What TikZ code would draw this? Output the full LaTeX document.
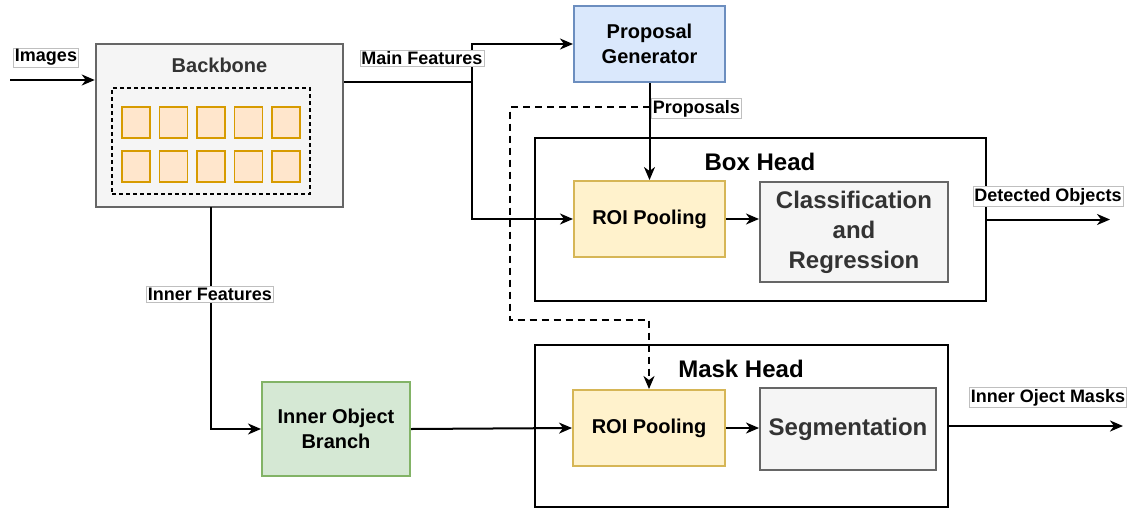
\documentclass[tikz,border=0pt]{standalone}
\usepackage{fontspec}
\setmainfont{Liberation Sans}
\usepackage{tikz}
\usetikzlibrary{arrows.meta}
\definecolor{bbfill}{HTML}{F5F5F5}
\definecolor{bbdraw}{HTML}{666666}
\definecolor{bbtext}{HTML}{333333}
\definecolor{cellfill}{HTML}{FFE6CC}
\definecolor{celldraw}{HTML}{D79B00}
\definecolor{pgfillc}{HTML}{DAE8FC}
\definecolor{pgdraw}{HTML}{6C8EBF}
\definecolor{roifill}{HTML}{FFF2CC}
\definecolor{roidraw}{HTML}{D6B656}
\definecolor{iobfill}{HTML}{D5E8D4}
\definecolor{iobdraw}{HTML}{82B366}

\begin{document}
\begin{tikzpicture}[x=1pt, y=-1pt,
        >={Stealth[length=13pt,width=11pt,inset=4pt]},
        flow/.style={line width=2pt},
        box/.style={draw, line width=2pt, inner sep=0pt, align=center,
            font=\bfseries\fontsize{20}{25}\selectfont},
        graybox/.style={box, fill=bbfill, draw=bbdraw, text=bbtext},
        headbox/.style={draw, line width=2pt, inner sep=0pt},
        headtitle/.style={font=\bfseries\fontsize{24}{28}\selectfont, inner sep=0pt},
        cell/.style={draw=celldraw, fill=cellfill, line width=1.3pt,
            minimum width=28pt, minimum height=31pt, inner sep=0pt},
        tag/.style={fill=white, draw=black!25, line width=0.8pt, inner sep=1.5pt,
            font=\bfseries\fontsize{18}{20}\selectfont}]
        \useasboundingbox (0,0) rectangle (1131,509);
        \node[graybox, line width=2.5pt, minimum width=247pt, minimum height=163pt] (backbone) at (219.5,125.5) {};
        \node[text=bbtext, font=\bfseries\fontsize{20}{24}\selectfont, inner sep=0pt] (bbtitle) at (219.5,65) {Backbone};
        \node[draw, dashed, dash pattern=on 4pt off 3pt, line width=1.5pt,
            minimum width=198pt, minimum height=106pt] (featgrid) at (211,141) {};
        \foreach \i in {0,...,4} {
            \node[cell] (cella\i) at (136+37.5*\i,122.5) {};
            \node[cell] (cellb\i) at (136+37.5*\i,166.5) {};
        }
        \node[box, fill=pgfillc, draw=pgdraw, minimum width=151pt, minimum height=76pt] (propgen) at (649.5,44) {Proposal\\Generator};
        \node[headbox, minimum width=451pt, minimum height=163pt] (boxhead) at (760.5,219.5) {};
        \node[headtitle] (bhtitle) at (760,162) {Box Head};
        \node[box, fill=roifill, draw=roidraw, minimum width=151pt, minimum height=76pt] (roibox) at (649.5,219) {ROI Pooling};
        \node[graybox, minimum width=188pt, minimum height=100pt,
            font=\bfseries\fontsize{24}{30}\selectfont] (clsreg) at (854,232) {Classification\\and\\Regression};
        \node[headbox, minimum width=413pt, minimum height=162pt] (maskhead) at (741.5,426) {};
        \node[headtitle] (mhtitle) at (741,369) {Mask Head};
        \node[box, fill=roifill, draw=roidraw, minimum width=152pt, minimum height=76pt] (roimask) at (649,428) {ROI Pooling};
        \node[graybox, minimum width=176pt, minimum height=82pt,
            font=\bfseries\fontsize{24}{28}\selectfont] (seg) at (848,429) {Segmentation};
        \node[box, fill=iobfill, draw=iobdraw, minimum width=148pt, minimum height=94pt] (iob) at (336,429) {Inner Object\\Branch};
        \coordinate (imgin) at (10,80);
        \coordinate (mfsplit) at (472,82);
        \coordinate (proptap) at (649.5,107);
        \coordinate (dashcorner) at (510,320);
        \coordinate (bbtap) at (211,207);
        \coordinate (detout) at (1110,219.5);
        \coordinate (maskout) at (1123,426);
        \draw[flow, ->] (imgin) -- (imgin -| backbone.west);
        \draw[flow] (backbone.east |- mfsplit) -- (mfsplit);
        \draw[flow, ->] (mfsplit) |- (propgen.west);
        \draw[flow, ->] (mfsplit) |- (roibox.west);
        \draw[flow, ->] (propgen.south) -- (roibox.north);
        \draw[flow, dashed, dash pattern=on 7pt off 5pt, ->] (proptap) -| (dashcorner) -| (roimask.north);
        \draw[flow, ->] (roibox.east) -- (roibox.east -| clsreg.west);
        \draw[flow, ->] (boxhead.east) -- (detout);
        \draw[flow, ->] (bbtap) |- (iob.west);
        \draw[flow, ->] (iob.east) -- (roimask.west);
        \draw[flow, ->] (roimask.east) -- (roimask.east -| seg.west);
        \draw[flow, ->] (maskout -| maskhead.east) -- (maskout);
        \node[tag] (imglbl) at (46,57.5) {Images};
        \node[tag] (mflbl) at (422,58.5) {Main Features};
        \node[tag, anchor=west] (proplbl) at (651,108.5) {Proposals};
        \node[tag] (iflbl) at (210,294.5) {Inner Features};
        \node[tag] (detlbl) at (1048,196.5) {Detected Objects};
        \node[tag] (masklbl) at (1048,397.5) {Inner Oject Masks};
    \end{tikzpicture}
\end{document}
